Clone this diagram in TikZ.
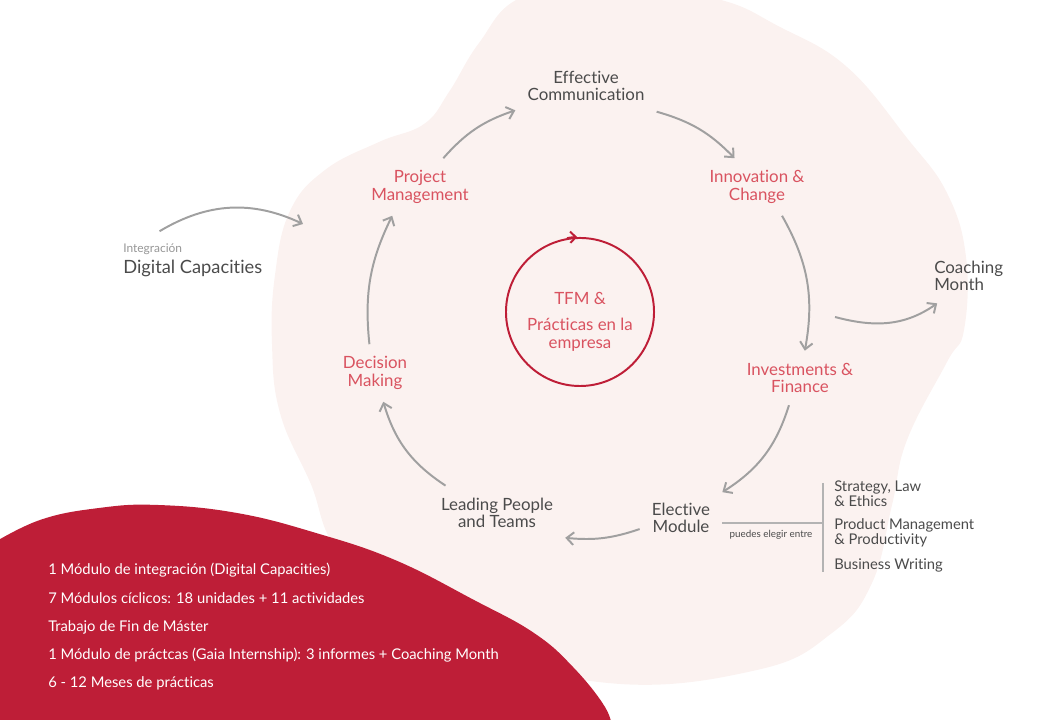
\documentclass[tikz,border=0pt]{standalone}
\usepackage{fontspec}
\setmainfont{Lato}[Ligatures=NoCommon]
\usetikzlibrary{arrows.meta}
\definecolor{blobpink}{RGB}{251,242,240}
\definecolor{gaiared}{RGB}{190,30,55}
\definecolor{labelred}{RGB}{217,83,96}
\definecolor{textgray}{RGB}{75,75,75}
\definecolor{arrowgray}{RGB}{160,160,160}
\definecolor{softgray}{RGB}{150,150,150}
\begin{document}
\begin{tikzpicture}[x=0.025cm,y=0.025cm,
		module/.style={align=center,inner sep=0.3cm,font=\fontsize{12}{12.5}\selectfont},
		hot/.style={module,text=labelred},
		cold/.style={module,text=textgray},
		flow/.style={draw=arrowgray,line width=1.4pt,-{Straight Barb[length=5pt,width=9pt]}},
		fact/.style={anchor=west,inner sep=0,text=white,font=\fontsize{10.5}{12}\selectfont},
		option/.style={anchor=west,inner sep=0,align=left,text=textgray,font=\fontsize{10.5}{10.6}\selectfont}]
		\useasboundingbox (0,0) rectangle (1040,720);
		\clip (0,0) rectangle (1040,720);
		\fill[blobpink] plot[smooth cycle,tension=0.7] coordinates {(600,735) (713,722) (780,693) (847,653) (907,582) (947,527) (966,463) (964,390) (947,358) (907,280) (892,215) (872,137) (832,87) (757,50) (608,37) (450,80) (345,160) (310,238) (280,307) (272,376) (275,445) (290,509) (325,550) (379,578) (424,596) (449,628) (479,677) (520,722)};
		\fill[gaiared] plot[smooth,tension=0.7] coordinates {(-10,175) (40,200) (99,212) (158,215) (237,207) (316,187) (395,160) (474,120) (534,87) (573,53) (605,13) (612,-10)} -- (-10,-10) -- cycle;
		\node[cold] (ec) at (586,634) {Effective\\Communication};
		\node[hot] (pm) at (420,533) {Project\\Management};
		\node[hot] (ic) at (757,533) {Innovation \&\\Change};
		\node[hot] (inv) at (800,342) {Investments \&\\Finance};
		\node[cold] (em) at (681,202) {Elective\\Module};
		\node[cold] (lp) at (497,207) {Leading People\\and Teams};
		\node[hot] (dm) at (375,347) {Decision\\Making};
		\node[cold,align=left,anchor=west] (cm) at (922,444) {Coaching\\Month};
		\node[anchor=west,inner sep=0.3cm,text=softgray,font=\fontsize{8.5}{9}\selectfont] (ig) at (111,471) {Integración};
		\node[anchor=west,inner sep=0.3cm,text=textgray,font=\fontsize{13}{14}\selectfont] (dc) at (111,452) {Digital Capacities};
		\node[circle,draw=gaiared,line width=1.4pt,minimum size=3.7cm,inner sep=0] (tfm) at (580,408) {};
		\node[align=center,text=labelred,font=\fontsize{12}{13}\selectfont] (tfmtext) at (580,398) {TFM \&\\[5pt]Prácticas en la\\empresa};
		\draw[gaiared,line width=1.4pt,-{Straight Barb[length=4pt,width=8pt]}] (tfm.100) arc[start angle=100,end angle=92,radius=1.85cm];
		\coordinate (entry) at (303,496);
		\coordinate (exit) at (835,403);
		\draw[flow] (ig.69) to[bend left=28] (entry);
		\draw[flow] (pm.51) to[bend left=15] (ec.199);
		\draw[flow] (ec.-20) to[bend left=15] (ic.128);
		\draw[flow] (ic.-49) to[bend left=20] (inv.80);
		\draw[flow] (inv.248) to[bend left=20] (em.32);
		\draw[flow] (em.195) to[bend left=12] (lp.-20);
		\draw[flow] (lp.152) to[bend left=20] (dm.-74);
		\draw[flow] (dm.101) to[bend left=16] (pm.226);
		\draw[flow] (exit) to[out=-15,in=215] (cm.221);
		\coordinate (split) at (823,197);
		\coordinate (bartop) at (823,237);
		\coordinate (barend) at (823,148);
		\draw[arrowgray!80,line width=1pt] (em.east |- split) -- (split);
		\draw[arrowgray!80,line width=1pt] (bartop) -- (barend);
		\node[text=textgray,font=\fontsize{7}{8}\selectfont] (pick) at (771,185) {puedes elegir entre};
		\node[option] (slw) at (834,226.5) {Strategy, Law\\\& Ethics};
		\node[option] (pmp) at (834,187.5) {Product Management\\\& Productivity};
		\node[option] (bw) at (834,155) {Business Writing};
		\node[fact] (f1) at (48,150) {1 Módulo de integración (Digital Capacities)};
		\node[fact] (f2) at (48,122) {7 Módulos cíclicos: 18 unidades + 11 actividades};
		\node[fact] (f3) at (48,93) {Trabajo de Fin de Máster};
		\node[fact] (f4) at (48,65) {1 Módulo de práctcas (Gaia Internship): 3 informes + Coaching Month};
		\node[fact] (f5) at (48,37) {6 - 12 Meses de prácticas};
\end{tikzpicture}
\end{document}
